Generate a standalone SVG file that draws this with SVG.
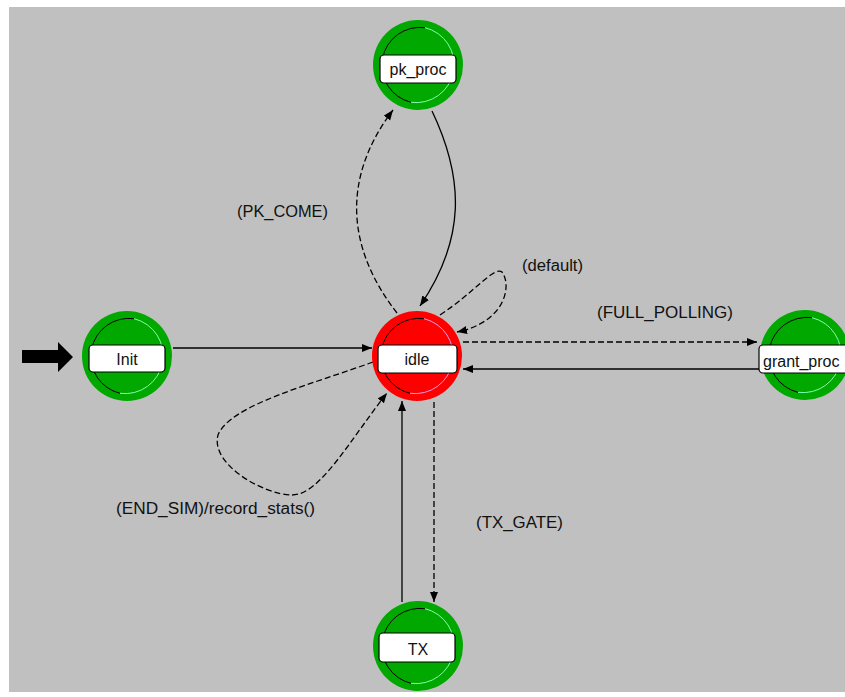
<svg xmlns="http://www.w3.org/2000/svg" width="845" height="697" viewBox="0 0 845 697">
<defs>
<style>
.bg{fill:#c0c0c0}
.green{fill:#00a800}
.red{fill:#ff0000}
.ringD{fill:none;stroke:#000;stroke-width:1}
.ringLg{fill:none;stroke:#80ffa8;stroke-width:1}
.ringLr{fill:none;stroke:#e0a0f0;stroke-width:1}
.box{fill:#fff;stroke:#000;stroke-width:1.2}
.nl{font-family:"Liberation Sans",Arial,sans-serif;font-size:16px;fill:#111;text-anchor:middle}
.el{font-family:"Liberation Sans",Arial,sans-serif;font-size:16px;fill:#111}
.solid{fill:none;stroke:#000;stroke-width:1.3;marker-end:url(#ah)}
.dash{fill:none;stroke:#000;stroke-width:1.3;stroke-dasharray:6,3;marker-end:url(#ah)}
</style>
<marker id="ah" markerUnits="userSpaceOnUse" markerWidth="12" markerHeight="10" refX="10" refY="4" orient="auto">
<path d="M0,0 L10,4 L0,8 Z" fill="#000"/>
</marker>
</defs>
<rect x="0" y="0" width="845" height="697" fill="#fff"/>
<rect class="bg" x="9" y="7" width="836" height="685"/>

<g id="connectors">
<path class="solid" d="M173,348 L372,348"/>
<path class="dash" d="M397,313 C348,250 340,180 393,110"/>
<path class="solid" d="M432,111 C465,180 465,240 420,306"/>
<path class="dash" d="M440,315 C475,292 494,266 502,272 C512,285 506,322 457,332"/>
<path class="dash" d="M463,342 L757,342"/>
<path class="solid" d="M760,369 L463,369"/>
<path class="dash" d="M434,402 L434,602"/>
<path class="solid" d="M402,602 L402,401"/>
<path class="dash" d="M373,362 C310,385 230,405 218,435 C210,465 265,495 292,495 C320,495 350,440 387,393"/>
</g>

<g id="start-arrow">
<path d="M22,350 L58,350 L58,342 L73,357 L58,372 L58,363 L22,363 Z" fill="#000"/>
</g>

<g id="labels">
<text class="el" x="237" y="217" textLength="91" lengthAdjust="spacingAndGlyphs">(PK_COME)</text>
<text class="el" x="522" y="271" textLength="61" lengthAdjust="spacingAndGlyphs">(default)</text>
<text class="el" x="597" y="318" textLength="136" lengthAdjust="spacingAndGlyphs">(FULL_POLLING)</text>
<text class="el" x="476" y="528" textLength="87" lengthAdjust="spacingAndGlyphs">(TX_GATE)</text>
<text class="el" x="116" y="514" textLength="199" lengthAdjust="spacingAndGlyphs">(END_SIM)/record_stats()</text>
</g>

<g id="init" transform="translate(127,356)">
<circle class="green" r="45"/>
<path class="ringD" d="M7,-37.3 A38,38 0 0 0 -7,37.3"/>
<path class="ringLg" d="M7,-37.3 A38,38 0 0 1 -7,37.3"/>
<rect class="box" x="-38" y="-11" width="76" height="27" rx="4"/>
<text class="nl" x="0" y="9">Init</text>
</g>

<g id="idle" transform="translate(417,356)">
<circle class="red" r="45"/>
<path class="ringD" d="M7,-37.3 A38,38 0 0 0 -7,37.3"/>
<path class="ringLr" d="M7,-37.3 A38,38 0 0 1 -7,37.3"/>
<rect class="box" x="-39" y="-11" width="79" height="28" rx="4"/>
<text class="nl" x="0" y="9">idle</text>
</g>

<g id="pk_proc" transform="translate(418,65)">
<circle class="green" r="45"/>
<path class="ringD" d="M7,-37.3 A38,38 0 0 0 -7,37.3"/>
<path class="ringLg" d="M7,-37.3 A38,38 0 0 1 -7,37.3"/>
<rect class="box" x="-38" y="-10" width="76" height="28" rx="4"/>
<text class="nl" x="0" y="10">pk_proc</text>
</g>

<g id="TX" transform="translate(418,646)">
<circle class="green" r="45"/>
<path class="ringD" d="M7,-37.3 A38,38 0 0 0 -7,37.3"/>
<path class="ringLg" d="M7,-37.3 A38,38 0 0 1 -7,37.3"/>
<rect class="box" x="-39" y="-13" width="76" height="29" rx="4"/>
<text class="nl" x="0" y="9">TX</text>
</g>

<g id="grant_proc" transform="translate(805,355)">
<circle class="green" r="45"/>
<path class="ringD" d="M7,-37.3 A38,38 0 0 0 -7,37.3"/>
<path class="ringLg" d="M7,-37.3 A38,38 0 0 1 -7,37.3"/>
<rect class="box" x="-46" y="-10" width="96" height="28" rx="4"/>
<text class="el" x="-42" y="12">grant_proc</text>
</g>
</svg>
